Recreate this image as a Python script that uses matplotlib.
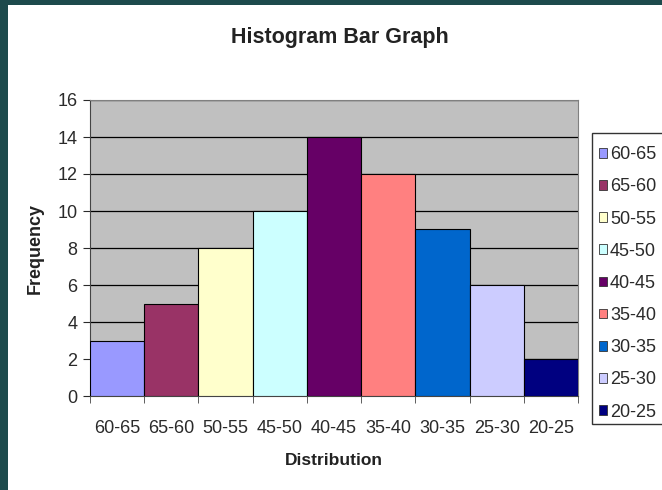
import matplotlib
matplotlib.use('Agg')
import matplotlib.pyplot as plt
from matplotlib.patches import Patch, Rectangle
import numpy as np

plt.rcParams['font.family'] = ['Liberation Sans', 'DejaVu Sans']

# data
categories = ['60-65', '65-60', '50-55', '45-50', '40-45', '35-40', '30-35', '25-30', '20-25']
frequency = [3, 5, 8, 10, 14, 12, 9, 6, 2]
bar_colors = ['#9999FF', '#993366', '#FFFFCC', '#CCFFFF', '#660066',
              '#FF8080', '#0066CC', '#CCCCFF', '#000080']
y_ticks = [0, 2, 4, 6, 8, 10, 12, 14, 16]

fig = plt.figure(figsize=(6.62, 4.90), dpi=100)
fig.patch.set_facecolor('white')
# dark frame on the left and top edges
frame = '#1d4a4c'
fig.patches.append(Rectangle((0, 0), 8 / 662, 1, transform=fig.transFigure,
                             facecolor=frame, edgecolor='none', zorder=-1))
fig.patches.append(Rectangle((0, 1 - 5 / 490), 1, 5 / 490, transform=fig.transFigure,
                             facecolor=frame, edgecolor='none', zorder=-1))

ax = fig.add_axes([90 / 662, 1 - 396 / 490, (578 - 90) / 662, (396 - 100) / 490])
ax.set_zorder(1)
ax.set_facecolor('#C0C0C0')

x = np.arange(len(categories))
ax.bar(x, frequency, width=1.0, color=bar_colors, edgecolor='black', linewidth=0.8, zorder=3)

ax.set_xlim(-0.5, len(categories) - 0.5)
ax.set_ylim(0, 16)
ax.set_yticks(y_ticks)
ax.yaxis.grid(True, color='black', linewidth=0.9, zorder=0)
ax.set_axisbelow(True)

ax.set_xticks(x)
ax.set_xticklabels(categories)
ax.set_xticks(np.arange(len(categories) + 1) - 0.5, minor=True)
ax.tick_params(axis='x', which='major', length=0, pad=17, labelsize=13, colors='#2a2a2a')
ax.tick_params(axis='x', which='minor', length=5, direction='out', color='#444444')
ax.tick_params(axis='y', length=5, direction='out', labelsize=13, colors='#2a2a2a', pad=4)

for s in ['top', 'right']:
    ax.spines[s].set_color('#808080')
for s in ['left', 'bottom']:
    ax.spines[s].set_color('#444444')

ax.set_xlabel('Distribution', fontsize=12.5, fontweight='bold', color='#222222', labelpad=12)
ax.set_ylabel('Frequency', fontsize=13, fontweight='bold', color='#222222', labelpad=10)
fig.text(0.513, 1 - 37 / 490, 'Histogram Bar Graph', ha='center', va='center',
         fontsize=15.5, fontweight='bold', color='#222222')

# legend box runs off the right edge of the picture
fig.patches.append(Rectangle((592 / 662, 1 - 424 / 490), 0.2, (424 - 133) / 490,
                             transform=fig.transFigure, facecolor='white',
                             edgecolor='#333333', linewidth=1.0, zorder=2))
handles = [Patch(facecolor=c, edgecolor='#333333', linewidth=0.6) for c in bar_colors]
leg = fig.legend(handles, categories, loc='upper left', bbox_to_anchor=(592 / 662, 1 - 139 / 490),
                 fontsize=13, frameon=False, handlelength=0.45, handleheight=0.45,
                 handletextpad=0.15, labelspacing=0.84, borderpad=0.4, borderaxespad=0)
leg.set_zorder(3)
for t in leg.get_texts():
    t.set_color('#2a2a2a')

fig.savefig('out.png', dpi=100, facecolor=fig.get_facecolor())
